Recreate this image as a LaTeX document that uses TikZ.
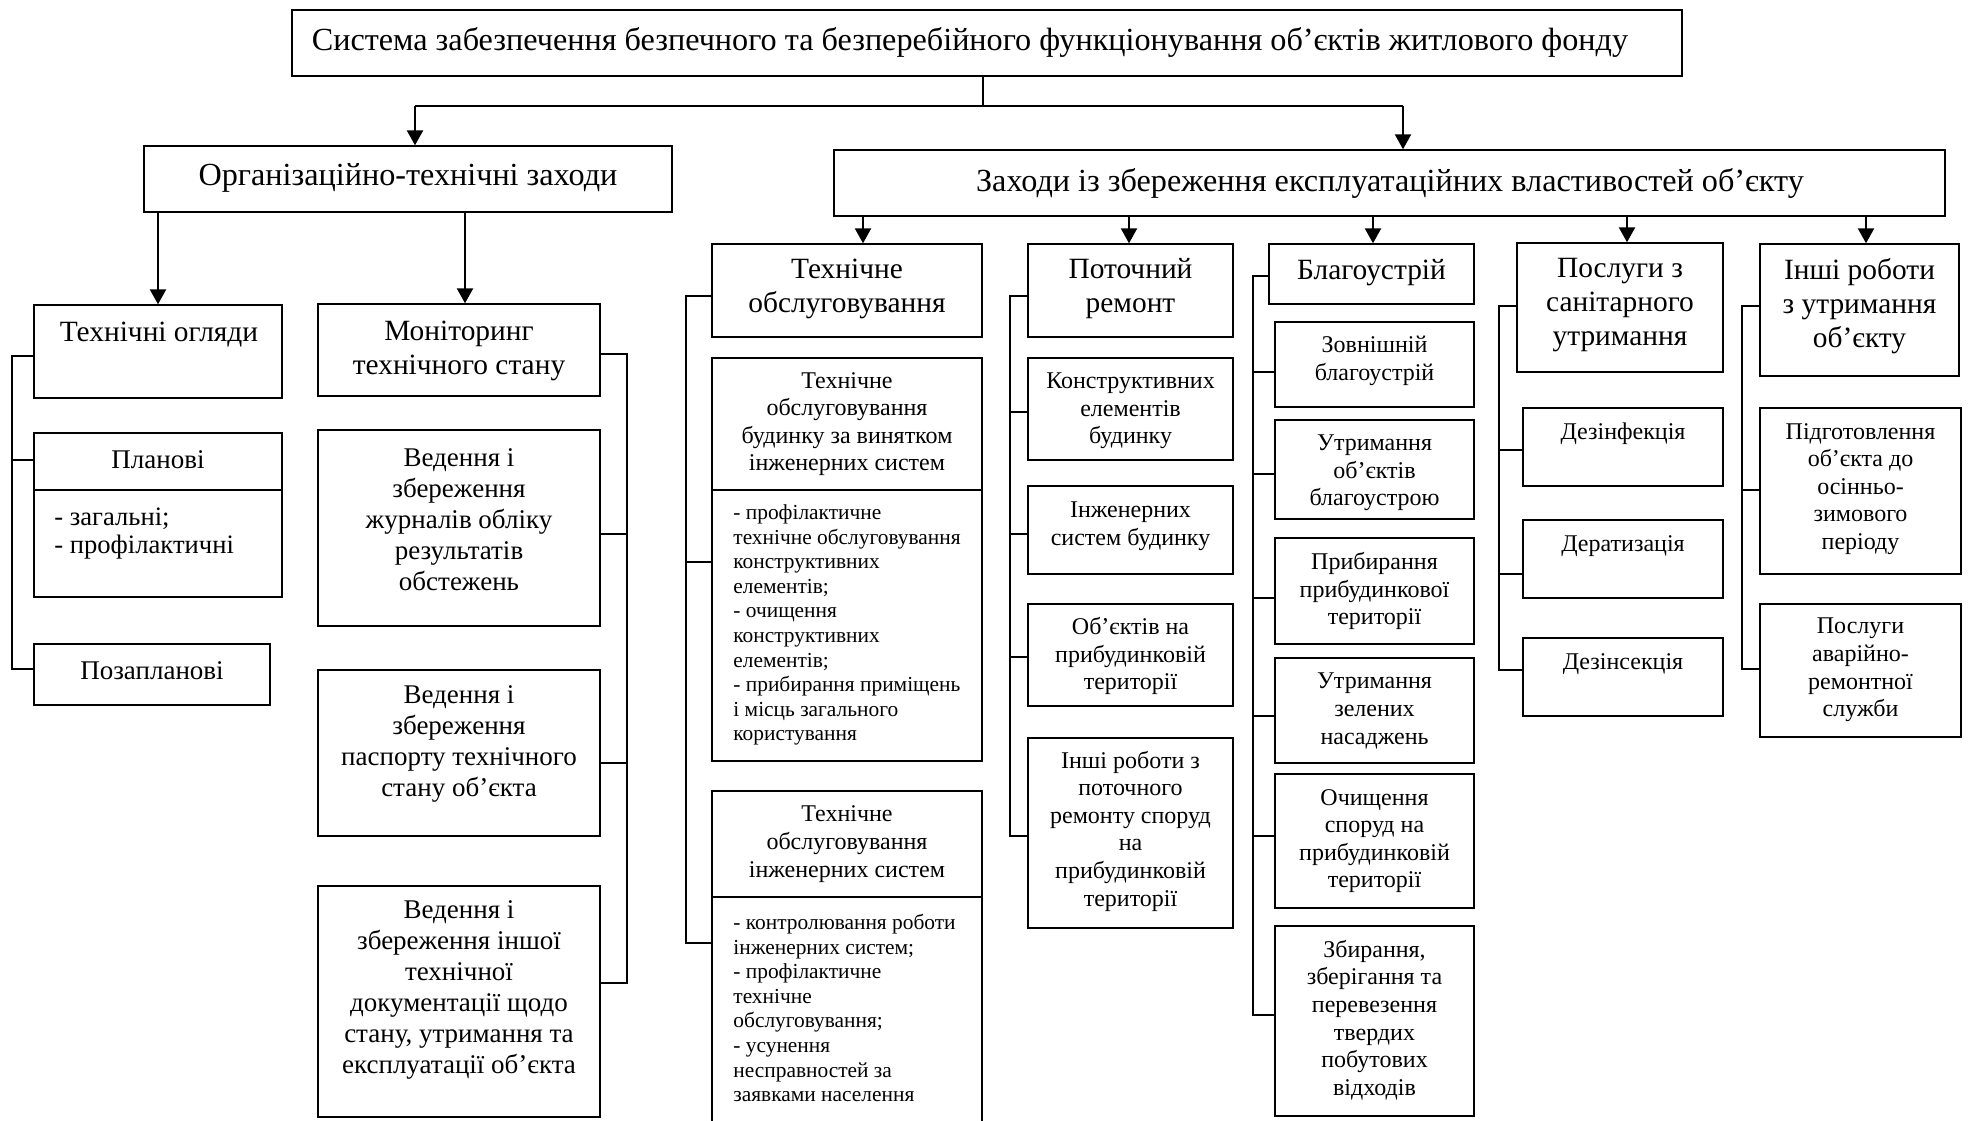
\documentclass[tikz,border=0pt]{standalone}
\usepackage{fontspec}
\setmainfont{Liberation Serif}
\usetikzlibrary{fit,arrows.meta}
\begin{document}
\begin{tikzpicture}[x=0.5pt,y=-0.5pt,
  box/.style={draw, line width=0.7pt, inner sep=0pt},
  conn/.style={line width=1.15pt},
  arr/.style={conn, -{Triangle[length=7.5pt,width=8pt]}},
  big/.style={inner sep=0pt, font=\fontsize{16.1}{18.5}\selectfont, align=center},
  head/.style={inner sep=0pt, font=\fontsize{14.7}{17}\selectfont, align=center},
  mid/.style={inner sep=0pt, font=\fontsize{13.5}{15.5}\selectfont, align=center},
  sml/.style={inner sep=0pt, font=\fontsize{12}{13.8}\selectfont, align=center},
  lst/.style={inner sep=0pt, font=\fontsize{10.7}{12.3}\selectfont, align=left, anchor=west},
  plst/.style={inner sep=0pt, font=\fontsize{13.3}{14}\selectfont, align=left, anchor=west}]
\useasboundingbox (0,0) rectangle (1970,1120);
\clip (0,0) rectangle (1970,1120);
\fill[white] (0,0) rectangle (1970,1120);

% ---- top level ----
\node[box, fit={(292,10) (1682,76)}] (sys) {};
\node[big] (sys-t) at (970,42) {Система забезпечення безпечного та безперебійного функціонування об’єктів житлового фонду};
\node[box, fit={(144,146) (672,212)}] (org) {};
\node[big] (org-t) at (408,178) {Організаційно-технічні заходи};
\node[box, fit={(834,150) (1945,216)}] (zah) {};
\node[big] (zah-t) at (1390,183) {Заходи із збереження експлуатаційних властивостей об’єкту};

\coordinate (split) at (983,106);
\draw[conn] (sys.south -| split) -- (split);
\draw[conn] (415,106) -- (1403,106);
\draw[arr] (415,106) -- (org.north -| 415,0);
\draw[arr] (1403,106) -- (zah.north -| 1403,0);

% ---- organisational branch ----
\node[box, fit={(34,305) (282,398)}] (ogl) {};
\node[head] (ogl-t) at (159,335) {Технічні огляди};
\node[box, fit={(34,433) (282,490)}] (plan) {};
\node[mid] (plan-t) at (158,460) {Планові};
\node[box, fit={(34,490) (282,597)}] (plan-b) {};
\node[plst] (plan-l) at (54,534) {- загальні;\\- профілактичні};
\node[box, fit={(34,644) (270,705)}] (pozap) {};
\node[mid] (pozap-t) at (152,671) {Позапланові};

\node[box, fit={(318,304) (600,396)}] (mon) {};
\node[head] (mon-t) at (459,351) {Моніторинг\\технічного стану};
\node[box, fit={(318,430) (600,626)}] (ved1) {};
\node[mid] (ved1-t) at (459,520) {Ведення і\\збереження\\журналів обліку\\результатів\\обстежень};
\node[box, fit={(318,670) (600,836)}] (ved2) {};
\node[mid] (ved2-t) at (459,744) {Ведення і\\збереження\\паспорту технічного\\стану об’єкта};
\node[box, fit={(318,886) (600,1117)}] (ved3) {};
\node[mid] (ved3-t) at (459,990) {Ведення і\\збереження іншої\\технічної\\документації щодо\\стану, утримання та\\експлуатації об’єкта};

\draw[arr] (org.south -| 158,0) -- (ogl.north -| 158,0);
\draw[arr] (org.south -| 465,0) -- (mon.north -| 465,0);

\coordinate (lsp) at (12,0);
\draw[conn] (ogl.west |- 0,356) -| (lsp |- 0,669) -- (pozap.west |- 0,669);
\draw[conn] (plan.west |- 0,460) -- (lsp |- 0,460);
\coordinate (rsp) at (627,0);
\draw[conn] (mon.east |- 0,354) -| (rsp |- 0,983) -- (ved3.east |- 0,983);
\draw[conn] (ved1.east |- 0,534) -- (rsp |- 0,534);
\draw[conn] (ved2.east |- 0,763) -- (rsp |- 0,763);

% ---- maintenance branch: technical service ----
\node[box, fit={(712,244) (982,337)}] (to) {};
\node[head] (to-t) at (847,289) {Технічне\\обслуговування};
\node[box, fit={(712,358) (982,490)}] (to1) {};
\node[sml] (to1-t) at (847,424) {Технічне\\обслуговування\\будинку за винятком\\інженерних систем};
\node[box, fit={(712,490) (982,761)}] (to1-b) {};
\node[lst] (to1-l) at (733,625) {- профілактичне\\технічне обслуговування\\конструктивних\\елементів;\\- очищення\\конструктивних\\елементів;\\- прибирання приміщень\\і місць загального\\користування};
\node[box, fit={(712,791) (982,897)}] (to2) {};
\node[sml] (to2-t) at (847,844) {Технічне\\обслуговування\\інженерних систем};
\node[box, fit={(712,897) (982,1125)}] (to2-b) {};
\node[lst] (to2-l) at (733,1008) {- контролювання роботи\\інженерних систем;\\- профілактичне\\технічне\\обслуговування;\\- усунення\\несправностей за\\заявками населення};

\coordinate (c1) at (686,0);
\draw[conn] (to.west |- 0,296) -| (c1 |- 0,943) -- (to2-b.west |- 0,943);
\draw[conn] (to1.west |- 0,562) -- (c1 |- 0,562);

% ---- current repair ----
\node[box, fit={(1028,244) (1233,337)}] (pr) {};
\node[head] (pr-t) at (1130.5,289) {Поточний\\ремонт};
\node[box, fit={(1028,358) (1233,460)}] (pr1) {};
\node[sml] (pr1-t) at (1130.5,411) {Конструктивних\\елементів\\будинку};
\node[box, fit={(1028,486) (1233,574)}] (pr2) {};
\node[sml] (pr2-t) at (1130.5,526) {Інженерних\\систем будинку};
\node[box, fit={(1028,604) (1233,706)}] (pr3) {};
\node[sml] (pr3-t) at (1130.5,656) {Об’єктів на\\прибудинковій\\території};
\node[box, fit={(1028,738) (1233,928)}] (pr4) {};
\node[sml] (pr4-t) at (1130.5,831) {Інші роботи з\\поточного\\ремонту споруд\\на\\прибудинковій\\території};

\coordinate (c2) at (1010,0);
\draw[conn] (pr.west |- 0,296) -| (c2 |- 0,836) -- (pr4.west |- 0,836);
\draw[conn] (pr1.west |- 0,412) -- (c2 |- 0,412);
\draw[conn] (pr2.west |- 0,534) -- (c2 |- 0,534);
\draw[conn] (pr3.west |- 0,657) -- (c2 |- 0,657);

% ---- landscaping ----
\node[box, fit={(1269,244) (1474,304)}] (bl) {};
\node[head] (bl-t) at (1371.5,273) {Благоустрій};
\node[box, fit={(1275,322) (1474,407)}] (bl1) {};
\node[sml] (bl1-t) at (1374.5,361) {Зовнішній\\благоустрій};
\node[box, fit={(1275,420) (1474,519)}] (bl2) {};
\begin{scope}
  \clip (1275,420) rectangle (1474,511);
  \node[sml] (bl2-t) at (1374.5,473) {Утримання\\об’єктів\\благоустрою};
\end{scope}
\node[box, fit={(1275,538) (1474,644)}] (bl3) {};
\node[sml] (bl3-t) at (1374.5,591) {Прибирання\\прибудинкової\\території};
\node[box, fit={(1275,658) (1474,763)}] (bl4) {};
\node[sml] (bl4-t) at (1374.5,711) {Утримання\\зелених\\насаджень};
\node[box, fit={(1275,774) (1474,908)}] (bl5) {};
\node[sml] (bl5-t) at (1374.5,841) {Очищення\\споруд на\\прибудинковій\\території};
\node[box, fit={(1275,926) (1474,1116)}] (bl6) {};
\node[sml] (bl6-t) at (1374.5,1020) {Збирання,\\зберігання та\\перевезення\\твердих\\побутових\\відходів};

\coordinate (c3) at (1253,0);
\draw[conn] (bl.west |- 0,276) -| (c3 |- 0,1015) -- (bl6.west |- 0,1015);
\draw[conn] (bl1.west |- 0,372) -- (c3 |- 0,372);
\draw[conn] (bl2.west |- 0,474) -- (c3 |- 0,474);
\draw[conn] (bl3.west |- 0,598) -- (c3 |- 0,598);
\draw[conn] (bl4.west |- 0,716) -- (c3 |- 0,716);
\draw[conn] (bl5.west |- 0,836) -- (c3 |- 0,836);

% ---- sanitary services ----
\node[box, fit={(1517,243) (1723,372)}] (san) {};
\node[head] (san-t) at (1620,305) {Послуги з\\санітарного\\утримання};
\node[box, fit={(1523,408) (1723,486)}] (s1) {};
\node[sml] (s1-t) at (1623,434) {Дезінфекція};
\node[box, fit={(1523,520) (1723,598)}] (s2) {};
\node[sml] (s2-t) at (1623,546) {Дератизація};
\node[box, fit={(1523,638) (1723,716)}] (s3) {};
\node[sml] (s3-t) at (1623,664) {Дезінсекція};

\coordinate (c4) at (1499,0);
\draw[conn] (san.west |- 0,306) -| (c4 |- 0,670) -- (s3.west |- 0,670);
\draw[conn] (s1.west |- 0,450) -- (c4 |- 0,450);
\draw[conn] (s2.west |- 0,574) -- (c4 |- 0,574);

% ---- other upkeep works ----
\node[box, fit={(1760,244) (1959,376)}] (inr) {};
\node[head] (inr-t) at (1859.5,306) {Інші роботи\\з утримання\\об’єкту};
\node[box, fit={(1760,408) (1961,574)}] (i1) {};
\node[sml] (i1-t) at (1860.5,489) {Підготовлення\\об’єкта до\\осінньо-\\зимового\\періоду};
\node[box, fit={(1760,604) (1961,737)}] (i2) {};
\node[sml] (i2-t) at (1860.5,670) {Послуги\\аварійно-\\ремонтної\\служби};

\coordinate (c5) at (1742,0);
\draw[conn] (inr.west |- 0,306) -| (c5 |- 0,669) -- (i2.west |- 0,669);
\draw[conn] (i1.west |- 0,490) -- (c5 |- 0,490);

% ---- arrows from the maintenance box ----
\draw[arr] (zah.south -| 863,0) -- (to.north -| 863,0);
\draw[arr] (zah.south -| 1129,0) -- (pr.north -| 1129,0);
\draw[arr] (zah.south -| 1373,0) -- (bl.north -| 1373,0);
\draw[arr] (zah.south -| 1627,0) -- (san.north -| 1627,0);
\draw[arr] (zah.south -| 1866,0) -- (inr.north -| 1866,0);
\end{tikzpicture}
\end{document}
